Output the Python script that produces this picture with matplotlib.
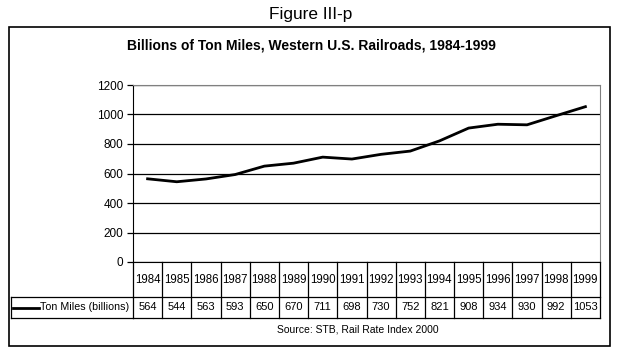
import matplotlib.pyplot as plt
from matplotlib.patches import Rectangle

plt.rcParams['font.family'] = ['Liberation Sans', 'DejaVu Sans']

years = ['1984', '1985', '1986', '1987', '1988', '1989', '1990', '1991',
         '1992', '1993', '1994', '1995', '1996', '1997', '1998', '1999']
ton_miles = [564, 544, 563, 593, 650, 670, 711, 698, 730, 752, 821, 908, 934, 930, 992, 1053]
yticks = [0, 200, 400, 600, 800, 1000, 1200]

W, H = 622, 364
fig = plt.figure(figsize=(W / 100, H / 100), dpi=100)

def fx(px):
    return px / W

def fy(py):
    return 1 - py / H

# outer chart border
fig.patches.append(Rectangle((fx(9), fy(346)), fx(610) - fx(9), fy(27) - fy(346),
                             transform=fig.transFigure, fill=False, ec='black', lw=1.2))

fig.text(fx(311), fy(14), 'Figure III-p', ha='center', va='center', fontsize=12.4)
fig.text(fx(311), fy(45), 'Billions of Ton Miles, Western U.S. Railroads, 1984-1999',
         ha='center', va='center', fontsize=10, fontweight='bold')
fig.text(fx(358), fy(330), 'Source: STB, Rail Rate Index 2000', ha='center', va='center', fontsize=7.5)

n = len(years)
x = list(range(n))

# plot area
ax = fig.add_axes([fx(133), fy(262), fx(600) - fx(133), fy(85) - fy(262)])
ax.plot(x, ton_miles, color='black', lw=2, solid_joinstyle='round')
ax.set_xlim(-0.5, n - 0.5)
ax.set_ylim(0, 1200)
ax.set_yticks(yticks)
ax.set_yticklabels([str(v) for v in yticks], fontsize=8.5)
ax.yaxis.grid(True, color='black', lw=0.9)
ax.set_axisbelow(True)
ax.set_xticks([])
ax.tick_params(axis='y', length=4, width=0.9, pad=3)
for s in ['top', 'right']:
    ax.spines[s].set_color('#808080')
ax.spines['left'].set_color('black')
ax.spines['bottom'].set_color('black')

# data table underneath
tab = fig.add_axes([fx(133), fy(318), fx(600) - fx(133), fy(262) - fy(318)])
tab.set_xlim(-0.5, n - 0.5)
tab.set_ylim(0, 56)
tab.axis('off')
kw = dict(color='black', lw=0.9, clip_on=False)
tab.plot([-0.5, n - 0.5], [21, 21], **kw)
tab.plot([-0.5, n - 0.5], [0, 0], **kw)
for i in range(n + 1):
    tab.plot([i - 0.5, i - 0.5], [0, 56], **kw)
for i in range(n):
    tab.text(i, 38, years[i], ha='center', va='center', fontsize=8.3)
    tab.text(i, 10.5, str(ton_miles[i]), ha='center', va='center', fontsize=8)

# legend cell on the left
leg = fig.add_axes([fx(11), fy(318), fx(133) - fx(11), fy(297) - fy(318)])
leg.set_xlim(11, 133)
leg.set_ylim(0, 1)
leg.axis('off')
leg.plot([11, 133], [1, 1], **kw)
leg.plot([11, 133], [0, 0], **kw)
leg.plot([11, 11], [0, 1], **kw)
leg.plot([13, 39], [0.5, 0.5], color='black', lw=2)
leg.text(40, 0.5, 'Ton Miles (billions)', ha='left', va='center', fontsize=7.7)

fig.savefig('out.png', dpi=100)
